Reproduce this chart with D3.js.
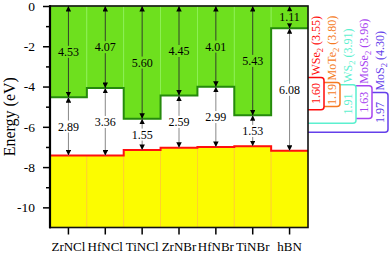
<!DOCTYPE html>
<html>
<head>
<meta charset="utf-8">
<script src="https://cdn.jsdelivr.net/npm/d3@7"></script>
<style>
  body { margin: 0; background: #fff; }
  svg { display: block; font-family: "Liberation Serif", "Times New Roman", serif; }
</style>
</head>
<body>
<div id="chart"></div>
<script>
// band edges of the nitride halides + hBN
const materials = ['ZrNCl', 'HfNCl', 'TiNCl', 'ZrNBr', 'HfNBr', 'TiNBr', 'hBN'];
const cbm = [-4.53, -4.07, -5.60, -4.45, -4.01, -5.43, -1.11];
const vbm = [-7.42, -7.43, -7.15, -7.04, -7.00, -6.96, -7.19];
const gaps = [2.89, 3.36, 1.55, 2.59, 2.99, 1.53, 6.08];

// TMD reference boxes
const tmdNames = ['WSe', 'MoTe', 'WS', 'MoSe', 'MoS'];
const tmdAffinity = [3.55, 3.80, 3.91, 3.96, 4.30];
const tmdGap = [1.60, 1.19, 1.91, 1.63, 1.97];
const tmdColors = ['#ff0a0a', '#f57a22', '#5cf0cf', '#a844f0', '#6440ea'];

const yTicks = [0, -2, -4, -6, -8, -10];
const yMinor = [-1, -3, -5, -7, -9];

const width = 391, height = 253;
const plotL = 50, plotR = 308, plotT = 6, plotB = 227.5;
const serif = '"Liberation Serif", "Times New Roman", serif';

const svg = d3.select('#chart').append('svg')
  .attr('width', width)
  .attr('height', height);

const x = d3.scaleBand().domain(materials).range([plotL, plotR]);
const y = d3.scaleLinear().domain([-11, 0]).range([plotB, plotT]);
const xt = d3.scaleBand().domain(tmdNames).range([plotR, 388]);
const bw = x.bandwidth();

// arrow head
svg.append('defs').append('marker')
  .attr('id', 'ah')
  .attr('viewBox', '0 0 10 10')
  .attr('refX', 10).attr('refY', 5)
  .attr('markerUnits', 'userSpaceOnUse')
  .attr('markerWidth', 5.5).attr('markerHeight', 5.5)
  .attr('orient', 'auto-start-reverse')
  .append('path').attr('d', 'M0,0L10,5L0,10z').attr('fill', '#000');

// TMD boxes, widest first so the narrow ones sit on top
const tmdIdx = d3.range(tmdNames.length).reverse();
const tmd = svg.append('g');
tmdIdx.forEach(i => {
  const name = tmdNames[i];
  const y0 = y(-tmdAffinity[i]);
  const y1 = y(-tmdAffinity[i] - tmdGap[i]);
  tmd.append('rect')
    .attr('x', 298)
    .attr('y', y0)
    .attr('width', xt(name) + xt.bandwidth() - 298)
    .attr('height', y1 - y0)
    .attr('rx', 3)
    .attr('fill', '#fff')
    .attr('stroke', tmdColors[i])
    .attr('stroke-width', 1.5);
});
tmdIdx.forEach(i => {
  const name = tmdNames[i];
  const cx = xt(name) + xt.bandwidth() / 2;
  const y0 = y(-tmdAffinity[i]);
  const y1 = y(-tmdAffinity[i] - tmdGap[i]);
  tmd.append('text')
    .attr('transform', `translate(${cx},${(y0 + y1) / 2}) rotate(-90)`)
    .attr('text-anchor', 'middle')
    .attr('dy', '.35em')
    .attr('font-size', '12px')
    .attr('fill', tmdColors[i])
    .text(tmdGap[i].toFixed(2));

  const lab = tmd.append('text')
    .attr('transform', `translate(${cx},${y0 - 2}) rotate(-90)`)
    .attr('text-anchor', 'start')
    .attr('dy', '.35em')
    .attr('font-size', '12px')
    .attr('fill', tmdColors[i]);
  lab.append('tspan').text(name);
  lab.append('tspan').attr('font-size', '8.5px').attr('dy', 3).text('2');
  lab.append('tspan').attr('dy', -3).text(` (${tmdAffinity[i].toFixed(2)})`);
});

// plot area
const plot = svg.append('g');
plot.append('rect')
  .attr('x', plotL).attr('y', plotT)
  .attr('width', plotR - plotL).attr('height', plotB - plotT)
  .attr('fill', '#fff');

plot.selectAll('.cb')
  .data(materials)
  .join('rect')
  .attr('class', 'cb')
  .attr('x', d => x(d))
  .attr('y', y(0))
  .attr('width', bw)
  .attr('height', (d, i) => y(cbm[i]) - y(0))
  .attr('fill', '#6ee01e')
  .attr('stroke', '#8ff05a')
  .attr('stroke-width', 0.8);

plot.selectAll('.vb')
  .data(materials)
  .join('rect')
  .attr('class', 'vb')
  .attr('x', d => x(d))
  .attr('y', (d, i) => y(vbm[i]))
  .attr('width', bw)
  .attr('height', (d, i) => y(-11) - y(vbm[i]))
  .attr('fill', '#fcfc00')
  .attr('stroke', '#ffcc30')
  .attr('stroke-width', 0.8);

const steps = vals => materials.flatMap((m, i) => [[x(m), y(vals[i])], [x(m) + bw, y(vals[i])]]);
const line = d3.line();

plot.append('path')
  .attr('d', line(steps(cbm)))
  .attr('fill', 'none')
  .attr('stroke', '#258a0c')
  .attr('stroke-width', 2);

plot.append('path')
  .attr('d', line(steps(vbm)))
  .attr('fill', 'none')
  .attr('stroke', '#ff1010')
  .attr('stroke-width', 2);

// arrows and values
const arrows = plot.append('g');
materials.forEach((m, i) => {
  const cx = x(m) + bw / 2;
  arrows.append('line')
    .attr('x1', cx).attr('x2', cx)
    .attr('y1', y(0)).attr('y2', y(cbm[i]))
    .attr('stroke', '#33402c')
    .attr('stroke-width', 1)
    .attr('marker-start', 'url(#ah)')
    .attr('marker-end', 'url(#ah)');
  arrows.append('line')
    .attr('x1', cx).attr('x2', cx)
    .attr('y1', y(cbm[i])).attr('y2', y(vbm[i]))
    .attr('stroke', '#888')
    .attr('stroke-width', 1)
    .attr('marker-start', 'url(#ah)')
    .attr('marker-end', 'url(#ah)');
});

function valueLabel(cx, cy, txt, bg) {
  const g = arrows.append('g');
  const t = g.append('text')
    .attr('x', cx).attr('y', cy)
    .attr('dy', '.35em')
    .attr('text-anchor', 'middle')
    .attr('font-size', '12px')
    .attr('fill', '#000')
    .text(txt);
  const bb = t.node().getBBox();
  g.insert('rect', 'text')
    .attr('x', bb.x - 1).attr('y', bb.y + 1)
    .attr('width', bb.width + 2).attr('height', bb.height - 2)
    .attr('fill', bg);
}
materials.forEach((m, i) => {
  const cx = x(m) + bw / 2;
  valueLabel(cx, (y(0) + y(cbm[i])) / 2, (-cbm[i]).toFixed(2), '#6ee01e');
  valueLabel(cx, (y(cbm[i]) + y(vbm[i])) / 2, gaps[i].toFixed(2), '#fff');
});

// axes
svg.append('g')
  .attr('transform', `translate(${plotL},0)`)
  .call(d3.axisLeft(y).tickValues(yTicks).tickSize(7).tickPadding(8).tickSizeOuter(0).tickFormat(d => String(d)))
  .attr('font-family', serif).attr('font-size', 13.5);
svg.append('g')
  .attr('transform', `translate(${plotL},0)`)
  .call(d3.axisLeft(y).tickValues(yMinor).tickSize(4).tickSizeOuter(0).tickFormat(''));

svg.append('g')
  .attr('transform', `translate(0,${plotB})`)
  .call(d3.axisBottom(x).tickSize(7).tickPadding(7).tickSizeOuter(0))
  .attr('font-family', serif).attr('font-size', 13);

svg.selectAll('.tick line').attr('stroke', '#000').attr('stroke-width', 1.5);
svg.selectAll('.domain').remove();
svg.selectAll('.tick text').attr('fill', '#000');

// frame
svg.append('rect')
  .attr('x', plotL).attr('y', plotT)
  .attr('width', plotR - plotL).attr('height', plotB - plotT)
  .attr('fill', 'none')
  .attr('stroke', '#111')
  .attr('stroke-width', 1.6);
svg.append('line')
  .attr('x1', plotL).attr('x2', plotL)
  .attr('y1', plotT - 0.8).attr('y2', plotB + 0.8)
  .attr('stroke', '#000')
  .attr('stroke-width', 2.2);

svg.append('text')
  .attr('transform', `translate(9,${(plotT + plotB) / 2}) rotate(-90)`)
  .attr('text-anchor', 'middle')
  .attr('dy', '.35em')
  .attr('font-size', '16px')
  .attr('fill', '#000')
  .text('Energy (eV)');
</script>
</body>
</html>
